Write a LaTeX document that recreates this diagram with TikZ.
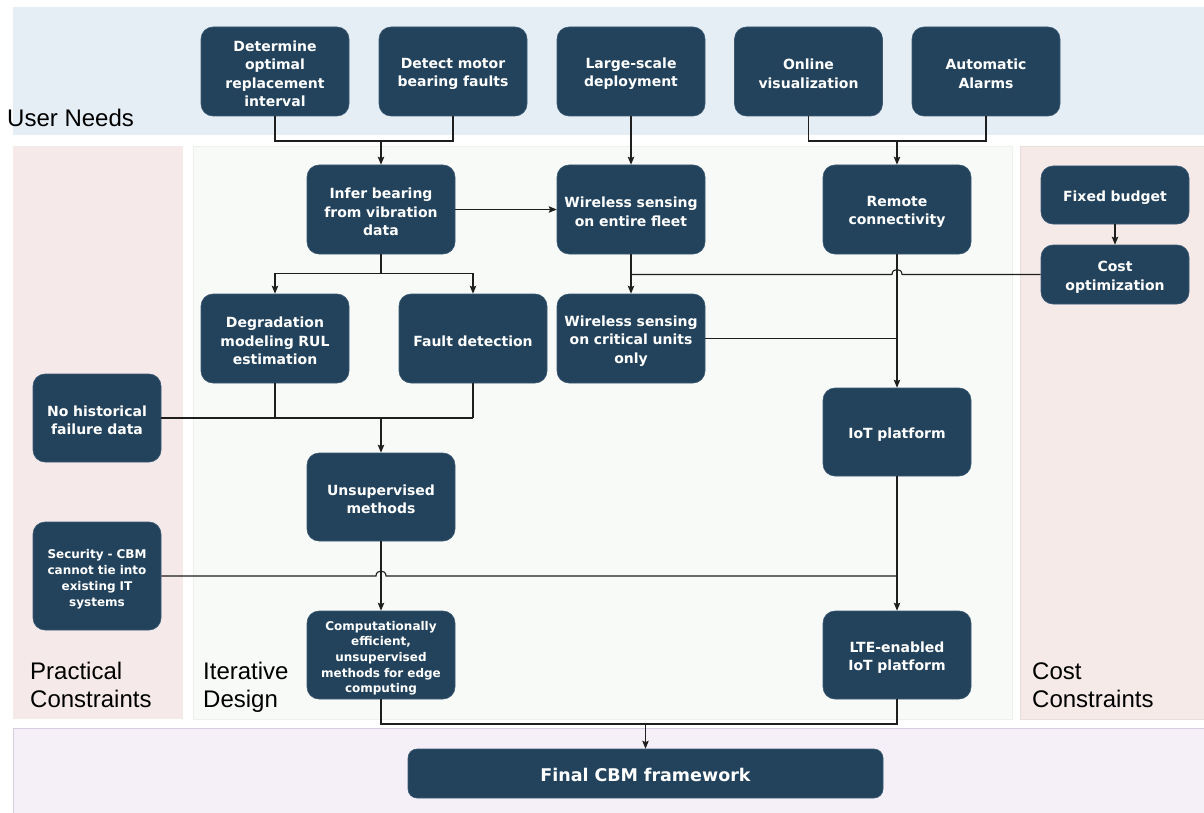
\documentclass[tikz,border=0pt]{standalone}
\usepackage{fontspec}
\setmainfont{Liberation Sans}
\newfontfamily\boxfont{DejaVu Sans}
\usetikzlibrary{arrows.meta}
\definecolor{boxfill}{HTML}{23435C}
\definecolor{boxedge}{HTML}{3A5872}
\definecolor{userbg}{HTML}{E6EEF5}
\definecolor{pracbg}{HTML}{F5EAE9}
\definecolor{iterbg}{HTML}{F8FAF7}
\definecolor{iteredge}{HTML}{EDF0EB}
\definecolor{costbg}{HTML}{F5EAE8}
\definecolor{costedge}{HTML}{EADDDB}
\definecolor{finbg}{HTML}{F5F0F7}
\definecolor{finedge}{HTML}{D9CDE3}
\definecolor{linecol}{HTML}{1E1E1E}
\tikzset{
  box/.style={draw=boxedge, line width=0.6pt, fill=boxfill, rounded corners=12pt,
    minimum width=148pt, minimum height=89pt, text width=142pt, align=center,
    inner sep=0pt, text=white, font=\boxfont\bfseries\fontsize{14}{18.5}\selectfont,
    execute at begin node={\rule{0pt}{15.5pt}}},
  smallbox/.style={box, font=\boxfont\bfseries\fontsize{12}{15.7}\selectfont,
    execute at begin node={\rule{0pt}{13pt}}},
  conn/.style={draw=linecol, line width=1.1pt},
  arr/.style={conn, -{Stealth[length=8pt,width=6.5pt,inset=1.5pt]}},
  lab/.style={anchor=base west, inner sep=0pt, font=\fontsize{24}{28}\selectfont, text=black}
}
\begin{document}
\begin{tikzpicture}[x=1pt,y=-1pt]
\useasboundingbox (0,0) rectangle (1204,813);
% bands
\fill[userbg] (13,7) rectangle (1204,135);
\fill[pracbg] (13,146) rectangle (183,719);
\filldraw[fill=iterbg, draw=iteredge, line width=0.6pt] (193,146) rectangle (1012,719);
\filldraw[fill=costbg, draw=costedge, line width=0.6pt] (1020,146) rectangle (1210,719);
\filldraw[fill=finbg, draw=finedge, line width=0.8pt] (13,728) rectangle (1210,820);
% band labels
\node[lab] (lun) at (7,127) {User Needs};
\node[lab] (lpc1) at (30,679) {Practical};
\node[lab] (lpc2) at (30,707) {Constraints};
\node[lab] (lid1) at (203,679) {Iterative};
\node[lab] (lid2) at (203,707) {Design};
\node[lab] (lcc1) at (1032,679) {Cost};
\node[lab] (lcc2) at (1032,707) {Constraints};
% user needs
\node[box] (b1) at (275,71.5) {Determine\\optimal\\replacement\\interval};
\node[box] (b2) at (453,71.5) {Detect motor\\bearing faults};
\node[box] (b3) at (631,71.5) {Large-scale\\deployment};
\node[box] (b4) at (808.5,71.5) {Online\\visualization};
\node[box] (b5) at (986,71.5) {Automatic\\Alarms};
% iterative design
\node[box] (infer) at (381,209.5) {Infer bearing\\from vibration\\data};
\node[box] (wef) at (631,209.5) {Wireless sensing\\on entire fleet};
\node[box] (remote) at (897,209.5) {Remote\\connectivity};
\node[box] (deg) at (275,338.5) {Degradation\\modeling RUL\\estimation};
\node[box] (fault) at (473,338.5) {Fault detection};
\node[box] (wcu) at (631,338.5) {Wireless sensing\\on critical units\\only};
\node[box, minimum height=88pt] (iot) at (897,432) {IoT platform};
\node[box, minimum height=88pt] (unsup) at (381,497) {Unsupervised\\methods};
\node[smallbox, minimum height=88pt] (comp) at (381,655) {Computationally\\efficient,\\unsupervised\\methods for edge\\computing};
\node[box, minimum height=88pt] (lte) at (897,655) {LTE-enabled\\IoT platform};
% practical constraints
\node[box, minimum width=128pt, text width=124pt, minimum height=88pt] (nohist) at (97,418) {No historical\\failure data};
\node[smallbox, minimum width=128pt, text width=124pt, minimum height=108pt] (sec) at (97,576) {Security - CBM\\cannot tie into\\existing IT\\systems};
% cost constraints
\node[box, minimum height=58pt] (fixed) at (1115,195) {Fixed budget};
\node[box, minimum height=59pt] (cost) at (1115,274.5) {Cost\\optimization};
% final
\node[box, minimum width=475pt, text width=460pt, minimum height=49pt, rounded corners=9pt,
  font=\boxfont\bfseries\fontsize{17.5}{21}\selectfont,
  execute at begin node={\rule{0pt}{15pt}}] (final) at (645.5,773.5) {Final CBM framework};
% junction coordinates
\coordinate (j1) at (381,141);
\coordinate (j2) at (897,141);
\coordinate (j4) at (645.5,724);
% connectors: user needs
\draw[conn] (b1.south) |- (b2.south |- j1) -- (b2.south);
\draw[arr] (j1) -- (infer.north);
\draw[arr] (b3.south) -- (wef.north);
\draw[conn] (b4.south) |- (b5.south |- j2) -- (b5.south);
\draw[arr] (j2) -- (remote.north);
% iterative
\draw[arr] (infer.east) -- (wef.west);
\draw[arr] (infer.south) -- ++(0,19) -| (deg.north);
\draw[arr] (infer.south) -- ++(0,19) -| (fault.north);
\draw[arr] (wef.south) -- (wcu.north);
\draw[arr] (fixed.south) -- (cost.north);
\draw[conn] (cost.west) -- (902,274.5) .. controls (902,267.8) and (892,267.8) .. (892,274.5) -- (wef.south |- cost.west);
\draw[conn] (wcu.east) -- (remote.south |- wcu.east);
\draw[arr] (remote.south) -- (iot.north);
\draw[conn] (nohist.east) -- (fault.south |- nohist.east);
\draw[conn] (deg.south) -- (deg.south |- nohist.east);
\draw[conn] (fault.south) -- (fault.south |- nohist.east);
\draw[arr] (unsup.north |- nohist.east) -- (unsup.north);
\draw[arr] (unsup.south) -- (comp.north);
\draw[conn] (sec.east) -- (376,576) .. controls (376,569.3) and (386,569.3) .. (386,576) -- (iot.south |- sec.east);
\draw[arr] (iot.south) -- (lte.north);
\draw[conn] (comp.south) |- (lte.south |- j4) -- (lte.south);
\draw[arr] (j4) -- (final.north);
\end{tikzpicture}
\end{document}
